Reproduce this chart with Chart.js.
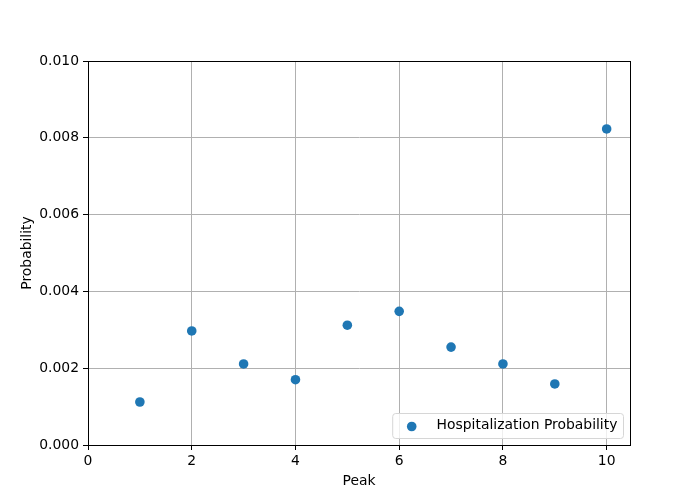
<!DOCTYPE html>
<html>
<head>
<meta charset="utf-8">
<script src="https://cdn.jsdelivr.net/npm/chart.js@4.4.1/dist/chart.umd.min.js"></script>
<style>
  body { margin: 0; background: #fff; }
  canvas { display: block; }
</style>
</head>
<body>
<canvas id="chart" width="700" height="500"></canvas>
<script>
// data
const peaks = [1, 2, 3, 4, 5, 6, 7, 8, 9, 10];
const probs = [0.00112, 0.00297, 0.00211, 0.00170, 0.00312, 0.00348, 0.00255, 0.00211, 0.00159, 0.00823];
const xTicks = [0, 2, 4, 6, 8, 10];
const yTicks = [0, 0.002, 0.004, 0.006, 0.008, 0.010];
const seriesLabel = "Hospitalization Probability";

const FONT = "'DejaVu Sans', sans-serif";
const BLUE = "#1f77b4";

// frame + legend inside the axes, like matplotlib
const framePlugin = {
  id: "frame",
  afterDraw(chart) {
    const { ctx, chartArea: a } = chart;
    ctx.save();
    ctx.strokeStyle = "#000";
    ctx.lineWidth = 1;
    ctx.strokeRect(a.left + 0.5, a.top + 0.5, a.right - a.left, a.bottom - a.top);

    // legend box lower right
    ctx.font = "13.9px " + FONT;
    const label = chart.data.datasets[0].label;
    const tw = ctx.measureText(label).width;
    const boxW = 5.6 + 27.8 + 11 + tw + 5.6;
    const boxH = 25;
    const bx = a.right - 7 - boxW;
    const by = a.bottom - 7 - boxH;
    ctx.beginPath();
    ctx.roundRect(bx + 0.5, by + 0.5, boxW, boxH, 3);
    ctx.fillStyle = "rgba(255,255,255,0.8)";
    ctx.fill();
    ctx.strokeStyle = "#d6d6d6";
    ctx.stroke();
    ctx.beginPath();
    ctx.arc(bx + 5.6 + 13.9, by + boxH / 2 + 1, 4.8, 0, Math.PI * 2);
    ctx.fillStyle = BLUE;
    ctx.fill();
    ctx.fillStyle = "#000";
    ctx.textBaseline = "middle";
    ctx.fillText(label, bx + 5.6 + 27.8 + 11, by + boxH / 2);
    ctx.restore();
  }
};

new Chart(document.getElementById("chart"), {
  type: "scatter",
  data: {
    datasets: [
      {
        label: seriesLabel,
        data: peaks.map((p, i) => ({ x: p, y: probs[i] })),
        backgroundColor: BLUE,
        borderColor: BLUE,
        borderWidth: 0,
        pointRadius: 4.8,
        pointHoverRadius: 4.8,
      },
    ],
  },
  options: {
    responsive: false,
    animation: false,
    layout: { padding: { left: 0, top: 61, right: 70, bottom: 0 } },
    plugins: {
      legend: { display: false },
      tooltip: { enabled: false },
    },
    scales: {
      x: {
        type: "linear",
        min: 0,
        max: 10.45,
        afterBuildTicks(s) { s.ticks = xTicks.map(v => ({ value: v })); },
        afterFit(s) { s.height = 55; },
        grid: { color: "#b0b0b0", lineWidth: 1, tickColor: "#000", tickLength: 5 },
        border: { color: "#000", width: 1 },
        ticks: { color: "#000", padding: 3, maxRotation: 0, font: { family: FONT, size: 13.9 } },
        title: { display: true, text: "Peak", color: "#000", padding: { top: 0, bottom: 10 }, font: { family: FONT, size: 13.9 } },
      },
      y: {
        type: "linear",
        min: 0,
        max: 0.01,
        afterBuildTicks(s) { s.ticks = yTicks.map(v => ({ value: v })); },
        afterFit(s) { s.width = 88; },
        grid: { color: "#b0b0b0", lineWidth: 1, tickColor: "#000", tickLength: 5 },
        border: { color: "#000", width: 1 },
        ticks: {
          color: "#000",
          padding: 4,
          font: { family: FONT, size: 13.9 },
          callback: (v) => v.toFixed(3),
        },
        title: { display: true, text: "Probability", color: "#000", padding: { top: 19, bottom: 0 }, font: { family: FONT, size: 13.9 } },
      },
    },
  },
  plugins: [framePlugin],
});
</script>
</body>
</html>
